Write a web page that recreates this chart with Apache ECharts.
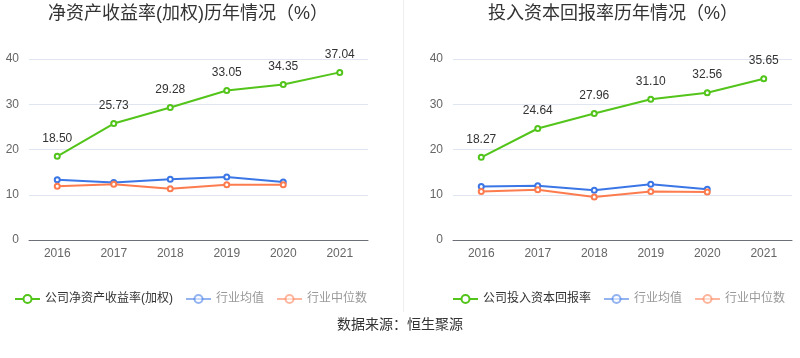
<!DOCTYPE html>
<html>
<head>
<meta charset="utf-8">
<script src="https://cdn.jsdelivr.net/npm/echarts@6/dist/echarts.min.js"></script>
<style>html,body{margin:0;padding:0;background:#fff}#c{width:800px;height:358px}</style>
</head>
<body>
<div id="c"></div>
<script>
var years = ['2016','2017','2018','2019','2020','2021'];
var yTicks = [0,10,20,30,40];
var roeCompany = [18.50, 25.73, 29.28, 33.05, 34.35, 37.04];
var roeIndAvg = [13.3, 12.7, 13.4, 13.9, 12.8];
var roeIndMed = [11.9, 12.3, 11.3, 12.2, 12.2];
var roicCompany = [18.27, 24.64, 27.96, 31.10, 32.56, 35.65];
var roicIndAvg = [11.8, 12.0, 11.0, 12.3, 11.2];
var roicIndMed = [10.7, 11.1, 9.5, 10.7, 10.6];
var titleLeft = '净资产收益率(加权)历年情况（%）';
var titleRight = '投入资本回报率历年情况（%）';
var nameRoe = '公司净资产收益率(加权)';
var nameRoic = '公司投入资本回报率';
var nameAvg = '行业均值';
var nameMed = '行业中位数';
var source = '数据来源：恒生聚源';

var FONT = '"Liberation Sans", "Noto Sans CJK SC", sans-serif';
var GREEN = '#52c41a', BLUE = '#3b76e6', ORANGE = '#fd7c4f';

function xAxis(gi){
  return {type:'category', gridIndex:gi, data:years, boundaryGap:true,
    axisLine:{lineStyle:{color:'#6e7079'}},
    axisTick:{alignWithLabel:true, lineStyle:{color:'#6e7079'}},
    axisLabel:{color:'#666', fontSize:12, fontFamily:FONT, margin:8}};
}
function yAxis(gi){
  return {type:'value', gridIndex:gi, min:yTicks[0], max:yTicks[yTicks.length-1], interval:10,
    axisLine:{show:false}, axisTick:{show:false},
    axisLabel:{color:'#666', fontSize:12, fontFamily:FONT, margin:10},
    splitLine:{lineStyle:{color:'#e0e6f1'}}};
}
function line(name, data, color, gi, label){
  return {name:name, type:'line', xAxisIndex:gi, yAxisIndex:gi, data:data,
    symbol:'emptyCircle', symbolSize:5, showAllSymbol:true,
    lineStyle:{color:color, width:2}, itemStyle:{color:color, borderWidth:2},
    label: label ? {show:true, position:'top', distance:8, color:'#333', fontSize:12, fontFamily:FONT,
      formatter:function(p){return p.value.toFixed(2);}} : {show:false},
    animation:false};
}
function legendData(a){
  return [
    {name:a, textStyle:{color:'#333'}},
    {name:nameAvg, itemStyle:{opacity:0.55}, lineStyle:{opacity:0.55}, textStyle:{color:'#999'}},
    {name:nameMed, itemStyle:{opacity:0.55}, lineStyle:{opacity:0.55}, textStyle:{color:'#999'}}
  ];
}
var chart = echarts.init(document.getElementById('c'), null, {renderer:'canvas'});
chart.setOption({
  animation:false,
  title:[
    {text:titleLeft, left:43, top:0, textStyle:{fontSize:18, fontWeight:'normal', color:'#333', fontFamily:FONT}},
    {text:titleRight, left:483, top:0, textStyle:{fontSize:18, fontWeight:'normal', color:'#333', fontFamily:FONT}}
  ],
  grid:[
    {left:29, right:432, top:59, bottom:118},
    {left:453, right:8, top:59, bottom:118}
  ],
  xAxis:[xAxis(0), xAxis(1)],
  yAxis:[yAxis(0), yAxis(1)],
  legend:[
    {left:9, top:288, itemWidth:25, itemHeight:10, itemGap:12, textStyle:{fontSize:12, fontFamily:FONT},
     data:legendData(nameRoe), selectedMode:false},
    {left:447, top:288, itemWidth:25, itemHeight:10, itemGap:12, textStyle:{fontSize:12, fontFamily:FONT},
     data:legendData(nameRoic), selectedMode:false}
  ],
  graphic:[
    {type:'line', shape:{x1:403.5, y1:0, x2:403.5, y2:312}, style:{stroke:'#eeeeee', lineWidth:1}},
    {type:'text', left:'center', top:318, style:{text:source, fontSize:14, fill:'#333', fontFamily:FONT}}
  ],
  series:[
    line(nameRoe, roeCompany, GREEN, 0, true),
    line(nameAvg, roeIndAvg, BLUE, 0, false),
    line(nameMed, roeIndMed, ORANGE, 0, false),
    line(nameRoic, roicCompany, GREEN, 1, true),
    line(nameAvg, roicIndAvg, BLUE, 1, false),
    line(nameMed, roicIndMed, ORANGE, 1, false)
  ]
});
</script>
</body>
</html>
